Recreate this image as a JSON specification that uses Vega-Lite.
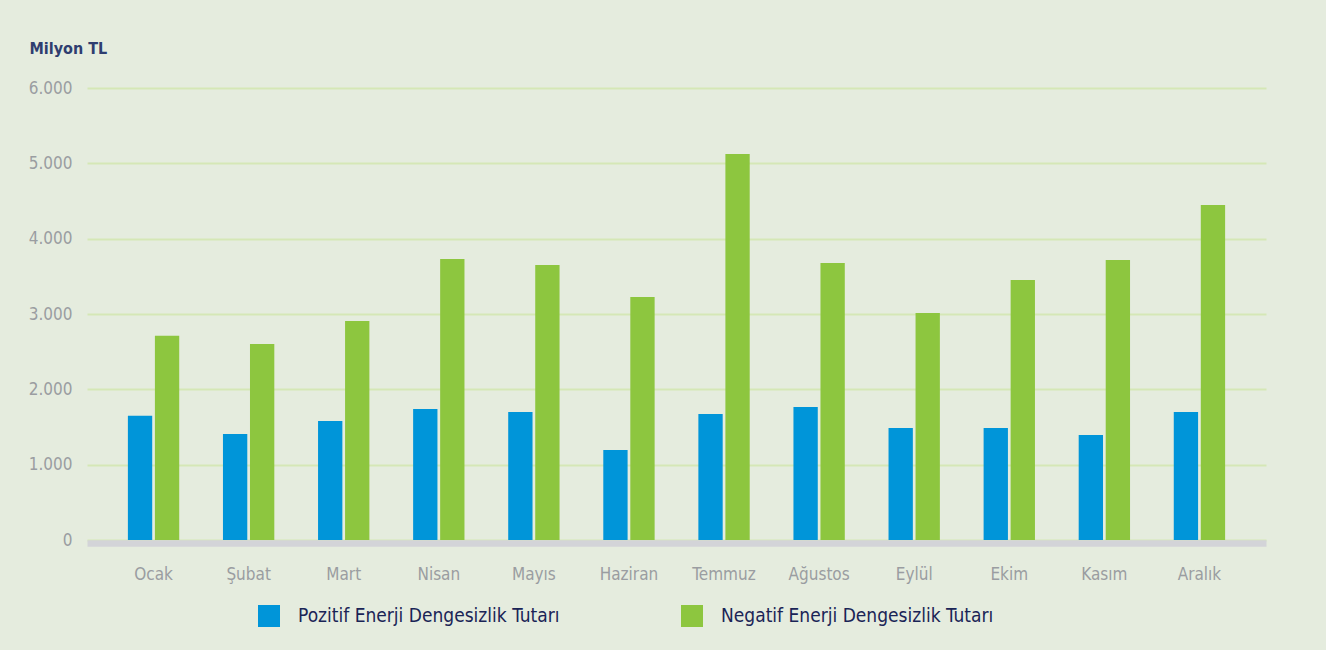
{
  "$schema": "https://vega.github.io/schema/vega-lite/v6.json",
  "width": 1179,
  "height": 452,
  "autosize": {"type": "none"},
  "padding": {"left": 87, "top": 88, "right": 60, "bottom": 110},
  "background": "#e5ecde",
  "config": {
    "view": {"stroke": null},
    "locale": {"number": {"decimal": ",", "thousands": ".", "grouping": [3], "currency": ["", " TL"]}},
    "font": "DejaVu Sans Condensed, sans-serif"
  },
  "data": {
    "values": [
      {"ay": "Ocak", "seri": "Pozitif Enerji Dengesizlik Tutarı", "deger": 1650},
      {"ay": "Ocak", "seri": "Negatif Enerji Dengesizlik Tutarı", "deger": 2710},
      {"ay": "Şubat", "seri": "Pozitif Enerji Dengesizlik Tutarı", "deger": 1407},
      {"ay": "Şubat", "seri": "Negatif Enerji Dengesizlik Tutarı", "deger": 2602},
      {"ay": "Mart", "seri": "Pozitif Enerji Dengesizlik Tutarı", "deger": 1580},
      {"ay": "Mart", "seri": "Negatif Enerji Dengesizlik Tutarı", "deger": 2907},
      {"ay": "Nisan", "seri": "Pozitif Enerji Dengesizlik Tutarı", "deger": 1739},
      {"ay": "Nisan", "seri": "Negatif Enerji Dengesizlik Tutarı", "deger": 3730},
      {"ay": "Mayıs", "seri": "Pozitif Enerji Dengesizlik Tutarı", "deger": 1699},
      {"ay": "Mayıs", "seri": "Negatif Enerji Dengesizlik Tutarı", "deger": 3650},
      {"ay": "Haziran", "seri": "Pozitif Enerji Dengesizlik Tutarı", "deger": 1195},
      {"ay": "Haziran", "seri": "Negatif Enerji Dengesizlik Tutarı", "deger": 3226},
      {"ay": "Temmuz", "seri": "Pozitif Enerji Dengesizlik Tutarı", "deger": 1673},
      {"ay": "Temmuz", "seri": "Negatif Enerji Dengesizlik Tutarı", "deger": 5124},
      {"ay": "Ağustos", "seri": "Pozitif Enerji Dengesizlik Tutarı", "deger": 1766},
      {"ay": "Ağustos", "seri": "Negatif Enerji Dengesizlik Tutarı", "deger": 3677},
      {"ay": "Eylül", "seri": "Pozitif Enerji Dengesizlik Tutarı", "deger": 1487},
      {"ay": "Eylül", "seri": "Negatif Enerji Dengesizlik Tutarı", "deger": 3013},
      {"ay": "Ekim", "seri": "Pozitif Enerji Dengesizlik Tutarı", "deger": 1487},
      {"ay": "Ekim", "seri": "Negatif Enerji Dengesizlik Tutarı", "deger": 3451},
      {"ay": "Kasım", "seri": "Pozitif Enerji Dengesizlik Tutarı", "deger": 1394},
      {"ay": "Kasım", "seri": "Negatif Enerji Dengesizlik Tutarı", "deger": 3717},
      {"ay": "Aralık", "seri": "Pozitif Enerji Dengesizlik Tutarı", "deger": 1699},
      {"ay": "Aralık", "seri": "Negatif Enerji Dengesizlik Tutarı", "deger": 4447}
    ]
  },
  "mark": {"type": "bar"},
  "encoding": {
    "x": {
      "field": "ay",
      "type": "nominal",
      "sort": null,
      "scale": {"paddingInner": 0.46, "paddingOuter": 0.43},
      "axis": {
        "title": null,
        "labelAngle": 0,
        "labelFontSize": 17,
        "labelFontWeight": 500,
        "labelColor": "#9a9da1",
        "labelPadding": 23,
        "ticks": false,
        "tickSize": 0,
        "offset": 3,
        "domainColor": "#d3d4d8",
        "domainWidth": 6.5,
        "grid": false
      }
    },
    "xOffset": {
      "field": "seri",
      "type": "nominal",
      "sort": ["Pozitif Enerji Dengesizlik Tutarı", "Negatif Enerji Dengesizlik Tutarı"],
      "scale": {"paddingInner": 0.1}
    },
    "y": {
      "field": "deger",
      "type": "quantitative",
      "scale": {"domain": [0, 6000], "nice": false},
      "axis": {
        "title": "Milyon TL",
        "titleAngle": 0,
        "titleAlign": "left",
        "titleBaseline": "alphabetic",
        "titleX": -58,
        "titleY": -35,
        "titleFontSize": 16,
        "titleFontWeight": "bold",
        "titleColor": "#2f3e70",
        "values": [0, 1000, 2000, 3000, 4000, 5000, 6000],
        "format": ",d",
        "labelFontSize": 17,
        "labelColor": "#9a9da1",
        "labelPadding": 15,
        "ticks": false,
        "domain": false,
        "grid": true,
        "gridColor": "#d5e7b6",
        "gridWidth": 2
      }
    },
    "color": {
      "field": "seri",
      "type": "nominal",
      "scale": {
        "domain": ["Pozitif Enerji Dengesizlik Tutarı", "Negatif Enerji Dengesizlik Tutarı"],
        "range": ["#0095d9", "#8dc63f"]
      },
      "legend": {
        "title": null,
        "orient": "none",
        "direction": "horizontal",
        "legendX": 171,
        "legendY": 517,
        "padding": 0,
        "symbolType": "square",
        "symbolSize": 484,
        "symbolStrokeWidth": 0,
        "symbolOpacity": 1,
        "labelFontSize": 19,
        "labelFontWeight": 500,
        "labelColor": "#1a2456",
        "labelOffset": 18,
        "columnPadding": 121,
        "labelLimit": 400
      }
    }
  }
}
